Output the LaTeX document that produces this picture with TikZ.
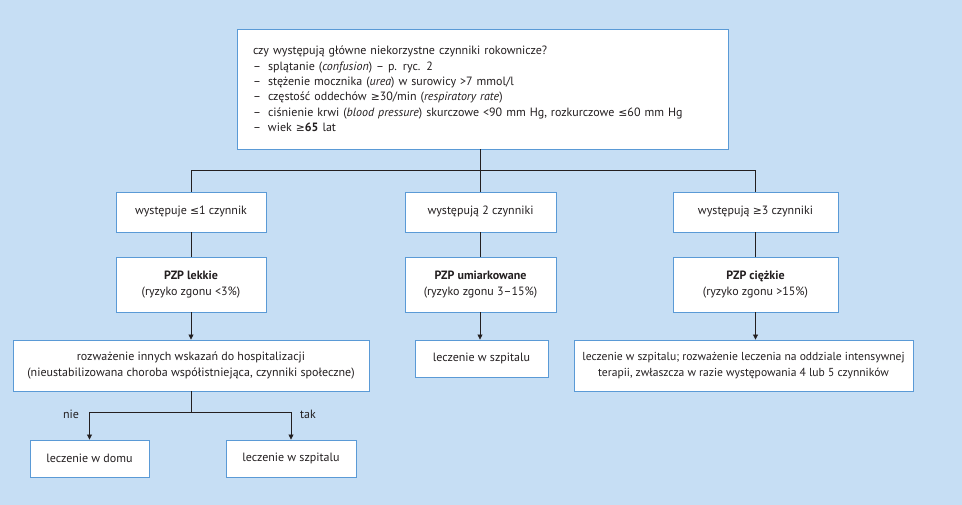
\documentclass[tikz,border=0pt]{standalone}
\usepackage{fontspec}
\setmainfont{PT Sans}
\newfontfamily\symfont[Scale=0.9]{DejaVu Sans}
\newcommand{\myle}{{\symfont ≤}}
\newcommand{\myge}{{\symfont ≥}}
\usetikzlibrary{arrows.meta}
\definecolor{bgblue}{HTML}{C6DEF4}
\definecolor{bordblue}{HTML}{5A9AD6}
\definecolor{txt}{HTML}{231F20}
\tikzset{
  box/.style={draw=bordblue, line width=0.9pt, fill=white, text=txt, align=center, inner sep=2pt, font=\fontsize{12}{16}\selectfont},
  conn/.style={draw=txt, line width=0.8pt},
  arr/.style={conn, -{Triangle[length=5pt,width=5pt]}},
  lbl/.style={text=txt, font=\fontsize{12}{15}\selectfont}
}
\newcommand{\dashitem}{\par\makebox[15pt][l]{–}}
\begin{document}
\begin{tikzpicture}[x=1pt,y=-1pt]
\fill[bgblue] (0,0) rectangle (962,505);
\useasboundingbox (0,0) rectangle (962,505);
\node[box, minimum width=491pt, minimum height=120pt, text width=459pt, align=left, inner xsep=16pt, font=\fontsize{12}{15.3}\selectfont] (top) at (482.5,89) {%
czy występują główne niekorzystne czynniki rokownicze?%
\dashitem splątanie (\textit{confusion}) – p. ryc. 2%
\dashitem stężenie mocznika (\textit{urea}) w surowicy >7 mmol/l%
\dashitem częstość oddechów \myge30/min (\textit{respiratory rate})%
\dashitem ciśnienie krwi (\textit{blood pressure}) skurczowe <90 mm Hg, rozkurczowe \myle60 mm Hg%
\dashitem wiek \myge\textbf{65} lat};
\node[box, minimum width=150pt, minimum height=40pt] (a1) at (191,212) {występuje \myle1 czynnik};
\node[box, minimum width=151pt, minimum height=40pt] (b1) at (480.5,212) {występują 2 czynniki};
\node[box, minimum width=165pt, minimum height=40pt] (c1) at (755.5,212) {występują \myge3 czynniki};
\node[box, minimum width=150pt, minimum height=55pt] (a2) at (191,284.5) {\textbf{PZP lekkie}\\(ryzyko zgonu <3\%)};
\node[box, minimum width=151pt, minimum height=55pt] (b2) at (480.5,284.5) {\textbf{PZP umiarkowane}\\(ryzyko zgonu 3–15\%)};
\node[box, minimum width=165pt, minimum height=55pt] (c2) at (755.5,284.5) {\textbf{PZP ciężkie}\\(ryzyko zgonu >15\%)};
\node[box, minimum width=356pt, minimum height=51pt] (a3) at (191,365.5) {rozważenie innych wskazań do hospitalizacji\\(nieustabilizowana choroba współistniejąca, czynniki społeczne)};
\node[box, minimum width=133pt, minimum height=37pt] (b3) at (481.5,358.5) {leczenie w szpitalu};
\node[box, minimum width=339pt, minimum height=51pt, font=\fontsize{11.6}{16}\selectfont] (c3) at (743.5,365.5) {leczenie w szpitalu; rozważenie leczenia na oddziale intensywnej\\terapii, zwłaszcza w razie występowania 4 lub 5 czynników};
\node[box, minimum width=119pt, minimum height=37pt] (d1) at (89.5,458.5) {leczenie w domu};
\node[box, minimum width=130pt, minimum height=37pt] (d2) at (291,458.5) {leczenie w szpitalu};
\coordinate (split) at (480,170);
\coordinate (split2) at (191,412);
\draw[conn] (top.south -| split) -- (split);
\draw[conn] (split) -| (a1.north);
\draw[conn] (split) -| (c1.north);
\draw[conn] (split) -- (b1.north -| split);
\draw[conn] (a1) -- (a2);
\draw[conn] (b1.south -| split) -- (b2.north -| split);
\draw[conn] (c1) -- (c2);
\draw[arr] (a2) -- (a3);
\draw[arr] (b2.south -| split) -- (b3.north -| split);
\draw[arr] (c2.south) -- (c2.south |- c3.north);
\draw[conn] (a3.south -| split2) -- (split2);
\draw[arr] (split2) -| (d1.north);
\draw[arr] (split2) -| (d2.north);
\node[lbl] (nie) at (71,414) {nie};
\node[lbl] (tak) at (308,414) {tak};
\end{tikzpicture}
\end{document}
